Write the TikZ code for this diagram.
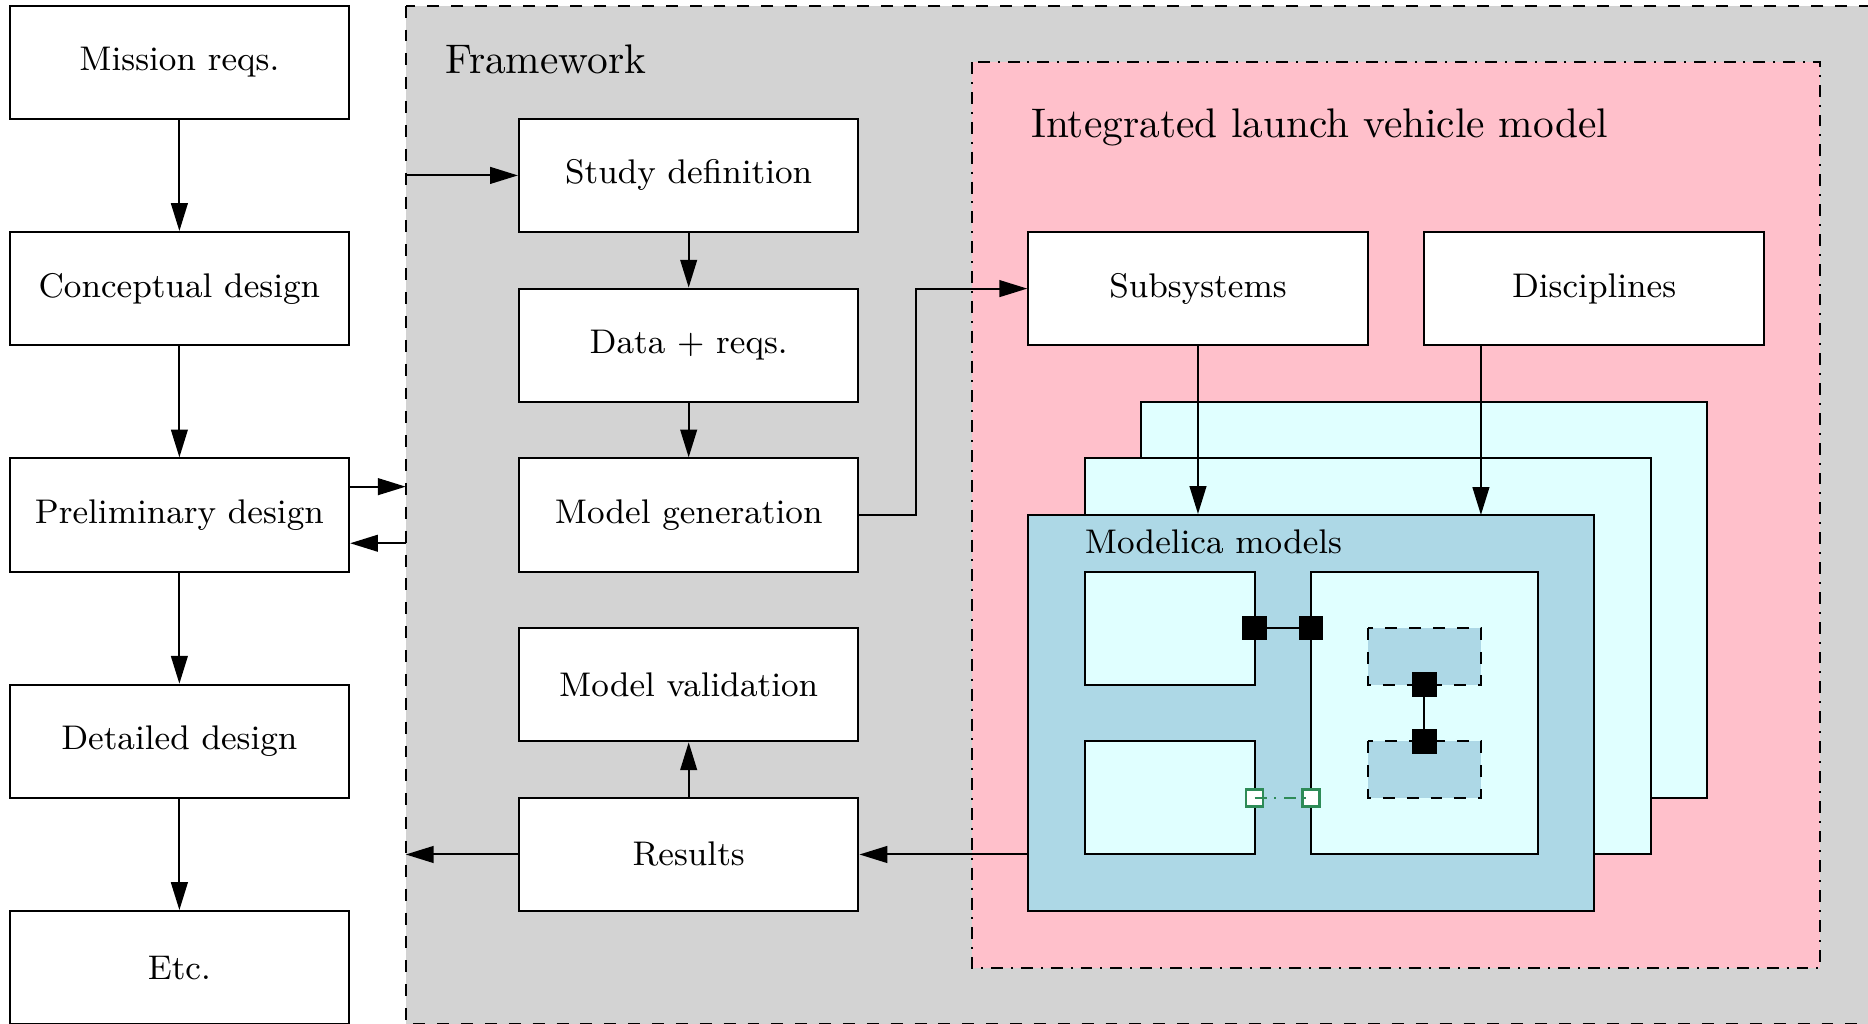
\documentclass[tikz,border=0pt]{standalone}
\usepackage{tikz}
\usetikzlibrary{arrows.meta,positioning,calc}
\definecolor{Frame}{HTML}{D3D3D3}
\definecolor{Pink}{HTML}{FFC0CB}
\definecolor{LCyan}{HTML}{E0FFFF}
\definecolor{LBlue}{HTML}{ADD8E6}
\definecolor{Port}{HTML}{2E8B57}

\begin{document}
\begin{tikzpicture}[x=0.5cm,y=-0.5cm,line width=0.5pt,
    box/.style={draw,fill=white,minimum width=3cm,minimum height=1cm,
      font=\fontsize{8.6}{10}\selectfont},
    title/.style={anchor=west,font=\fontsize{10.4}{12}\selectfont},
    arr/.style={-{Triangle[length=7pt,width=4.2pt]}},
    port/.style={draw,fill=black,minimum size=0.2cm,inner sep=0pt},
    gport/.style={draw=Port,fill=white,minimum size=0.15cm,inner sep=0pt,line width=0.6pt}]
    \useasboundingbox (-0.17,-0.1) rectangle (32.84,17.98);
    % framework and model frames
    \draw[dashed,fill=Frame] (7,0) rectangle (34,18);
    \node[title] (fwlab) at (7.45,0.95) {Framework};
    \draw[dash dot,fill=Pink] (17,1) rectangle (32,17);
    \node[title] (ilvlab) at (17.8,2.15) {Integrated launch vehicle model};
    % design phases
    \foreach \y/\name/\lab in {1/mission/Mission reqs., 5/concept/Conceptual design,
      9/prelim/Preliminary design, 13/detail/Detailed design, 17/etc/Etc.}
      \node[box] (\name) at (3,\y) {\lab};
    \foreach \a/\b in {mission/concept, concept/prelim, prelim/detail, detail/etc}
      \draw[arr] (\a) -- (\b);
    % framework steps
    \foreach \y/\name/\lab in {3/study/Study definition, 6/data/Data + reqs.,
      9/modgen/Model generation, 12/modval/Model validation, 15/results/Results}
      \node[box] (\name) at (12,\y) {\lab};
    \draw[arr] (study) -- (data);
    \draw[arr] (data) -- (modgen);
    \draw[arr] (results) -- (modval);
    \coordinate (fwA) at (7,8.5);
    \coordinate (fwB) at (7,9.5);
    \coordinate (fwC) at (7,3);
    \coordinate (fwD) at (7,15);
    \draw[arr] (prelim.east |- fwA) -- (fwA);
    \draw[arr] (fwB) -- (prelim.east |- fwB);
    \draw[arr] (fwC) -- (study);
    \draw[arr] (results) -- (fwD);
    % vehicle model
    \node[box] (subsys) at (21,5) {Subsystems};
    \node[box] (discip) at (28,5) {Disciplines};
    \draw[fill=LCyan] (20,7) rectangle (30,14);
    \draw[fill=LCyan] (19,8) rectangle (29,15);
    \node[draw,fill=LBlue,minimum width=5cm,minimum height=3.5cm] (mods) at (23,12.5) {};
    \node[anchor=west,font=\fontsize{8.6}{10}\selectfont] (modlab) at (18.75,9.48) {Modelica models};
    \draw[fill=LCyan] (19,10) rectangle (22,12);
    \draw[fill=LCyan] (19,13) rectangle (22,15);
    \draw[fill=LCyan] (23,10) rectangle (27,15);
    \draw[dashed,fill=LBlue] (24,11) rectangle (26,12);
    \draw[dashed,fill=LBlue] (24,13) rectangle (26,14);
    \coordinate (dtop) at (26,9);
    \draw[arr] (modgen.east) -- ++(1,0) |- (subsys.west);
    \draw[arr] (subsys) -- (subsys |- mods.north);
    \draw[arr] (discip.south -| dtop) -- (dtop);
    \draw[arr] (mods.west |- results) -- (results);
    % connectors
    \node[port] (pa) at (22,11) {};
    \node[port] (pb) at (23,11) {};
    \draw (pa) -- (pb);
    \node[port] (pc) at (25,12) {};
    \node[port] (pd) at (25,13) {};
    \draw (pc) -- (pd);
    \node[gport] (ga) at (22,14) {};
    \node[gport] (gb) at (23,14) {};
    \draw[Port,dash dot] (ga.center) -- (gb.center);
\end{tikzpicture}
\end{document}
